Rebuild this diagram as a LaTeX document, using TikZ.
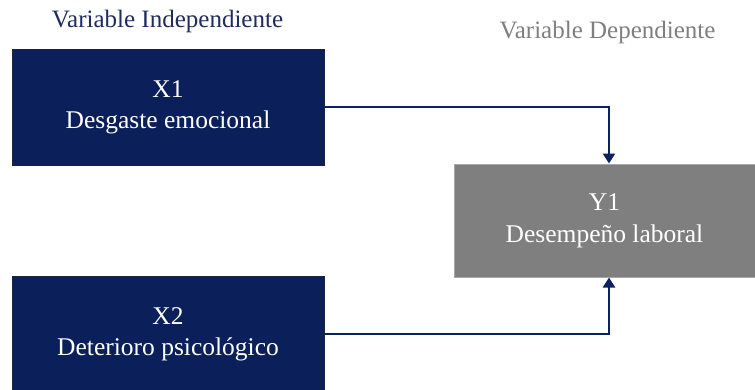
\documentclass[tikz,border=0pt]{standalone}
\usepackage{fontspec}
\setmainfont{Liberation Serif}
\usetikzlibrary{arrows.meta,positioning}
\definecolor{navy}{HTML}{0B1F5A}
\definecolor{navyedge}{HTML}{1A2638}
\definecolor{navytext}{HTML}{1F2C5E}
\definecolor{midgray}{HTML}{7F7F7F}
\definecolor{grayedge}{HTML}{A8A8A8}
\definecolor{arrowcol}{HTML}{0C2163}
\tikzset{
  indbox/.style={draw=navyedge, line width=1pt, fill=navy, text=white,
    minimum width=312pt, minimum height=116pt, inner sep=0pt, align=center,
    font=\fontsize{25.5}{31}\selectfont},
  depbox/.style={draw=grayedge, line width=1pt, fill=midgray, text=white,
    minimum width=301pt, minimum height=113pt, inner sep=0pt, align=center,
    font=\fontsize{25.5}{32}\selectfont},
  titletext/.style={inner sep=0pt, font=\fontsize{25}{30}\selectfont},
  conn/.style={draw=arrowcol, line width=2.5pt,
    -{Triangle[width=12pt,length=10pt]}}
}
\begin{document}
\begin{tikzpicture}[x=1pt,y=-1pt]
\useasboundingbox (0,0) rectangle (755,389);
\node[titletext, text=navytext] (tind) at (167.5,21) {Variable Independiente};
\node[titletext, text=midgray] (tdep) at (607.5,32) {Variable Dependiente};
\node[indbox] (x1) at (168,107) {X1\\Desgaste emocional};
\node[indbox] (x2) at (168,334) {X2\\Deterioro psicológico};
\node[depbox] (y1) at (604.5,220.5) {Y1\\Desempeño laboral};
\coordinate (jx) at (609,0);
\draw[conn] (x1.east) -| (jx |- y1.north);
\draw[conn] (x2.east) -| (jx |- y1.south);
\end{tikzpicture}
\end{document}
